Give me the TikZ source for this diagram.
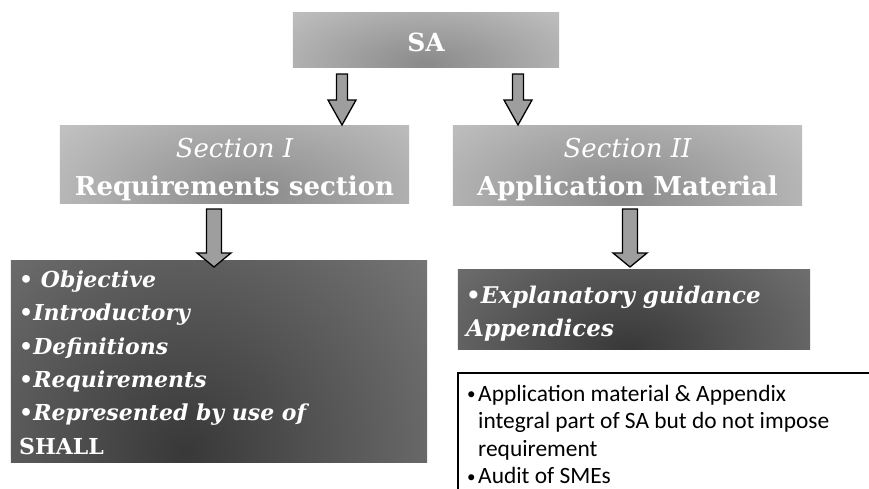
\documentclass[tikz,border=0pt]{standalone}
\usepackage{fontspec}
\setmainfont{DejaVu Serif}
\newfontfamily\calibfont{Carlito}
\usetikzlibrary{calc}
\definecolor{lgIn}{gray}{0.54}
\definecolor{lgMid}{gray}{0.72}
\definecolor{lgOut}{gray}{0.92}
\definecolor{dgIn}{gray}{0.22}
\definecolor{dgMid}{gray}{0.50}
\definecolor{dgOut}{gray}{0.80}
\definecolor{arrowfill}{gray}{0.62}
\pgfdeclareradialshading{lightgrad}{\pgfpoint{0bp}{0bp}}{color(0bp)=(lgIn); color(15bp)=(lgMid); color(33bp)=(lgOut); color(50bp)=(lgOut)}
\pgfdeclareradialshading{darkgrad}{\pgfpoint{0bp}{0bp}}{color(0bp)=(dgIn); color(21bp)=(dgMid); color(35bp)=(dgOut); color(50bp)=(dgOut)}
\tikzset{
  boxarea/.style={draw=none, inner sep=0pt},
  barrow/.style={draw=black, line width=1.3pt, fill=arrowfill, line join=miter},
  pics/blockdown/.style n args={4}{code={
    \draw[barrow] (-#1,0) -- (#1,0) -- (#1,#3) -- (#2,#3) -- (0,#4) -- (-#2,#3) -- (-#1,#3) -- cycle;}},
  whitetext/.style={text=white, inner sep=0pt},
  titlefont/.style={font=\fontsize{26}{38}\selectfont},
  listfont/.style={font=\fontsize{#1}{33.4}\selectfont\bfseries\itshape, align=left},
  notebox/.style={draw=black, line width=2.2pt, fill=white},
  notetext/.style={inner sep=0pt, align=left, font=\calibfont\fontsize{23.4}{27.5}\selectfont}
}
\newcommand{\smallbul}{\makebox[11pt][l]{\raisebox{1.5pt}{\fontsize{17}{17}\selectfont\textbullet}}}
\begin{document}
\begin{tikzpicture}[x=1pt, y=-1pt]
\useasboundingbox (0,0) rectangle (869,488);
\fill[white] (0,0) rectangle (869,488);
\clip (0,0) rectangle (869,488);

% boxes (areas)
\node[boxarea, minimum width=266, minimum height=54] (sa) at (426,40) {};
\node[boxarea, minimum width=349, minimum height=77] (s1) at (234.5,164.5) {};
\node[boxarea, minimum width=349, minimum height=79] (s2) at (627.5,165.5) {};
\node[boxarea, minimum width=416, minimum height=201] (l1) at (219,361.5) {};
\node[boxarea, minimum width=352, minimum height=79] (l2) at (634,309.5) {};

% shadings
\begin{scope}
  \clip (sa.south west) rectangle (sa.north east);
  \shade[shading=lightgrad] (426,64) ellipse [x radius=260pt, y radius=110pt];
\end{scope}
\begin{scope}
  \clip (s1.south west) rectangle (s1.north east);
  \shade[shading=lightgrad] (250,196) ellipse [x radius=320pt, y radius=160pt];
\end{scope}
\begin{scope}
  \clip (s2.south west) rectangle (s2.north east);
  \shade[shading=lightgrad] (620,197) ellipse [x radius=320pt, y radius=160pt];
\end{scope}
\begin{scope}
  \clip (l1.south west) rectangle (l1.north east);
  \shade[shading=darkgrad] (185,452) ellipse [x radius=430pt, y radius=430pt];
\end{scope}
\begin{scope}
  \clip (l2.south west) rectangle (l2.north east);
  \shade[shading=darkgrad] (628,348) ellipse [x radius=343pt, y radius=215pt];
\end{scope}

% texts
\node[whitetext, font=\fontsize{25}{30}\selectfont\bfseries] (satext) at (sa.center) [yshift=-2pt] {SA};
\node[whitetext, titlefont, align=center, anchor=north] (s1text) at (234.5,135)
  {\rule{0pt}{22pt}\itshape Section I\\\bfseries Requirements section};
\node[whitetext, titlefont, align=center, anchor=north] (s2text) at (627.5,135)
  {\rule{0pt}{22pt}\itshape Section II\\\bfseries Application Material};
\node[whitetext, listfont=22, anchor=north west] (l1text) at (19,265)
  {\rule{0pt}{22pt}\textbullet\ Objective\\\textbullet Introductory\\\textbullet Definitions\\\textbullet Requirements\\\textbullet Represented by use of\\\upshape SHALL};
\node[whitetext, listfont=23, anchor=north west] (l2text) at (466,281)
  {\rule{0pt}{22pt}\textbullet Explanatory guidance\\Appendices};

% block arrows
\pic at (342,74) {blockdown={5.5}{14}{26}{51}};
\pic at (518,74) {blockdown={5.5}{14}{26}{51}};
\pic at (214,209) {blockdown={7.5}{17}{44}{58}};
\pic at (630,209) {blockdown={7.5}{17}{44}{58}};

% note box
\draw[notebox] (458,373) rectangle (885,500);
\node[notetext, anchor=north west] (note) at (467,379)
  {\rule{0pt}{22pt}\smallbul Application material \& Appendix\\
   \hspace*{11pt}integral part of SA but do not impose\\
   \hspace*{11pt}requirement\\
   \smallbul Audit of SMEs};
\end{tikzpicture}
\end{document}
